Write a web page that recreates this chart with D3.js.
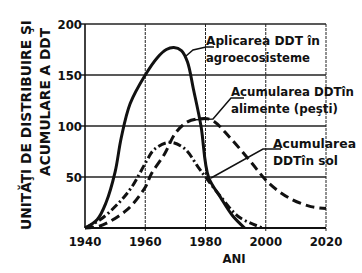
<!DOCTYPE html>
<html>
<head>
<meta charset="utf-8">
<script src="https://cdn.jsdelivr.net/npm/d3@7"></script>
<style>
  body { margin: 0; background: #fff; }
  svg text { font-family: "Liberation Sans Narrow", "DejaVu Sans Condensed", sans-serif; font-weight: bold; fill: #111; }
</style>
</head>
<body>
<svg id="chart" width="362" height="273"></svg>
<script>
// ani (years) and values
var xTicks = [1940, 1960, 1980, 2000, 2020];
var yTicks = [50, 100, 150, 200];

// Aplicarea DDT in agroecosisteme (solid)
var aplicareaYears  = [1940, 1944, 1947, 1950, 1952, 1955, 1960, 1964, 1967, 1969.5, 1972, 1974, 1976, 1978.5, 1981, 1985, 1989, 1993];
var aplicareaValues = [0, 8, 25, 55, 88, 122, 150, 167, 175, 177, 174, 163, 136, 100, 50, 30, 12, 0];

// Acumularea DDT in alimente (pesti) (dashed)
var alimenteYears  = [1940, 1945, 1954, 1960, 1962, 1966.5, 1970, 1974, 1978, 1982, 1988, 1995, 2001, 2008, 2015, 2020];
var alimenteValues = [0, 2, 18, 40, 53, 73, 93, 104, 107, 106, 89, 65, 44, 29, 21, 19];

// Acumularea DDT in sol (dash-dot)
var solYears  = [1940, 1945, 1951, 1955.5, 1960.5, 1963, 1968, 1973, 1977.5, 1980, 1985, 1991, 1999];
var solValues = [0, 8, 24, 40, 66, 77, 84, 78, 60, 50, 31, 11, 0];

var svg = d3.select("#chart");

var x = d3.scaleLinear().domain([1940, 2020]).range([85, 326]);
var y = d3.scaleLinear().domain([0, 200]).range([228, 24]);

// grid
svg.append("g").selectAll("line.h")
    .data(yTicks)
  .enter().append("line")
    .attr("x1", x(1940) - 4).attr("x2", x(2020))
    .attr("y1", function(d) { return y(d); }).attr("y2", function(d) { return y(d); })
    .attr("stroke", "#222").attr("stroke-width", function(d) { return d === 200 ? 1.6 : 1.3; });

svg.append("g").selectAll("line.v")
    .data(xTicks.slice(1))
  .enter().append("line")
    .attr("x1", function(d) { return x(d); }).attr("x2", function(d) { return x(d); })
    .attr("y1", y(200)).attr("y2", y(0) + 3)
    .attr("stroke", "#222").attr("stroke-width", 1)
    .attr("stroke-dasharray", "3,1");

// axes lines
svg.append("line")
    .attr("x1", x(1940)).attr("x2", x(1940)).attr("y1", y(200)).attr("y2", y(0))
    .attr("stroke", "#111").attr("stroke-width", 1.6);
svg.append("line")
    .attr("x1", x(1940)).attr("x2", x(2020)).attr("y1", y(0)).attr("y2", y(0))
    .attr("stroke", "#111").attr("stroke-width", 2);

// tick labels
svg.append("g").selectAll("text")
    .data(yTicks)
  .enter().append("text")
    .attr("x", x(1940) - 3)
    .attr("y", function(d) { return y(d) + 5; })
    .attr("text-anchor", "end")
    .attr("font-size", 13)
    .text(function(d) { return d; });

svg.append("g").selectAll("text")
    .data(xTicks)
  .enter().append("text")
    .attr("x", function(d) { return x(d); })
    .attr("y", 246)
    .attr("text-anchor", "middle")
    .attr("font-size", 13)
    .text(function(d) { return d; });

svg.append("text")
    .attr("x", 234).attr("y", 263)
    .attr("text-anchor", "middle")
    .attr("font-size", 13)
    .text("ANI");

// y title, two rotated lines
svg.append("text")
    .attr("transform", "translate(31,125) rotate(-90)")
    .attr("text-anchor", "middle")
    .attr("font-size", 14)
    .attr("textLength", 210).attr("lengthAdjust", "spacingAndGlyphs")
    .text("UNITĂŢI DE DISTRIBUIRE ŞI");
svg.append("text")
    .attr("transform", "translate(50,102) rotate(-90)")
    .attr("text-anchor", "middle")
    .attr("font-size", 14)
    .attr("textLength", 148).attr("lengthAdjust", "spacingAndGlyphs")
    .text("ACUMULARE A DDT");

// curves
var line = d3.line()
    .x(function(d) { return x(d[0]); })
    .y(function(d) { return y(d[1]); })
    .curve(d3.curveCatmullRom.alpha(0.5));

function pairs(xs, ys) { return xs.map(function(v, i) { return [v, ys[i]]; }); }

svg.append("path")
    .datum(pairs(aplicareaYears, aplicareaValues))
    .attr("d", line)
    .attr("fill", "none").attr("stroke", "#111").attr("stroke-width", 3);

svg.append("path")
    .datum(pairs(alimenteYears, alimenteValues))
    .attr("d", line)
    .attr("fill", "none").attr("stroke", "#111").attr("stroke-width", 3)
    .attr("stroke-dasharray", "9,5");

svg.append("path")
    .datum(pairs(solYears, solValues))
    .attr("d", line)
    .attr("fill", "none").attr("stroke", "#111").attr("stroke-width", 3)
    .attr("stroke-dasharray", "8,3,2,3");

// labels with leader lines
var labels = [
  {lines: ["Aplicarea DDT în", "agroecosisteme"], x: 206, y: 45, w: [114, 104],
   leader: [[214, 47], [206, 47], [193, 50], [186, 56]]},
  {lines: ["Acumularea DDTîn", "alimente (peşti)"], x: 231, y: 96, w: [123, 107],
   leader: [[244, 98], [231, 98], [213, 119], [190, 120]]},
  {lines: ["Acumularea", "DDTîn sol"], x: 273, y: 148, w: [83, 65],
   leader: [[281, 149], [263, 149], [211, 178]]}
];

labels.forEach(function(l) {
  l.lines.forEach(function(t, i) {
    svg.append("text")
      .attr("x", l.x).attr("y", l.y + i * 17)
      .attr("font-size", 13)
      .attr("textLength", l.w[i]).attr("lengthAdjust", "spacingAndGlyphs")
      .text(t);
  });
  svg.append("path")
    .attr("d", d3.line()(l.leader))
    .attr("fill", "none").attr("stroke", "#111").attr("stroke-width", 1.5);
});
</script>
</body>
</html>
